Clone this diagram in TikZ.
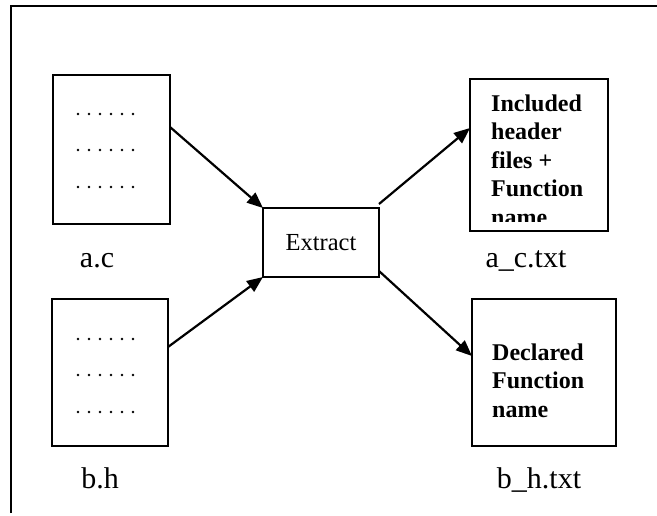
\documentclass[tikz,border=0pt]{standalone}
\usepackage{fontspec}
\setmainfont{Liberation Serif}
\usetikzlibrary{arrows.meta}
\begin{document}
\begin{tikzpicture}[x=1pt,y=-1pt,
  filebox/.style={draw, line width=2pt, inner sep=0pt, outer sep=0pt},
  flow/.style={line width=2.2pt, -{Triangle[length=16pt,width=13pt]}},
  filename/.style={anchor=base, font=\fontsize{30}{30}\selectfont},
  boldtext/.style={anchor=base west, align=left, inner sep=0pt,
    font=\fontsize{24}{28.5}\selectfont\bfseries}]
  \useasboundingbox (0,0) rectangle (657,515);
  % open frame round the figure
  \draw[line width=2pt] (11,513) -- (11,6) -- (657,6);
  % source files
  \node[filebox, minimum width=117pt, minimum height=149pt] (ac) at (111.5,149.5) {};
  \node[filebox, minimum width=116pt, minimum height=147pt] (bh) at (110,372.5) {};
  \foreach \y in {114,150,187,339,375,412}
    \foreach \i in {0,...,5}
      \fill (78+11*\i,\y) circle (1.3pt);
  \node[filename] (aclabel) at (97,267) {a.c};
  \node[filename] (bhlabel) at (100,488) {b.h};
  % extraction step
  \node[filebox, minimum width=116pt, minimum height=69pt,
    font=\fontsize{24.5}{24.5}\selectfont] (ext) at (321,242.5) {Extract};
  % output files (last line of the upper one is cut by the box)
  \node[filebox, minimum width=138pt, minimum height=152pt] (actxt) at (539,155) {};
  \node[filebox, minimum width=144pt, minimum height=147pt] (bhtxt) at (544,372.5) {};
  \begin{scope}
    \clip (472,81) rectangle (606,221);
    \node[boldtext] (actext) at (491,225) {Included\\header\\files +\\Function\\name};
  \end{scope}
  \node[boldtext] (bhtext) at (492,417) {Declared\\Function\\name};
  \node[filename] (actxtlabel) at (526,267) {a\_c.txt};
  \node[filename] (bhtxtlabel) at (539,488) {b\_h.txt};
  % arrows
  \draw[flow] ([yshift=22.5pt]ac.east) -- (ext.north west);
  \draw[flow] ([yshift=25.5pt]bh.east) -- (ext.south west);
  \draw[flow] ([yshift=4pt]ext.north east) -- ([yshift=27pt]actxt.west);
  \draw[flow] ([yshift=6pt]ext.south east) -- ([yshift=16.5pt]bhtxt.west);
\end{tikzpicture}
\end{document}
